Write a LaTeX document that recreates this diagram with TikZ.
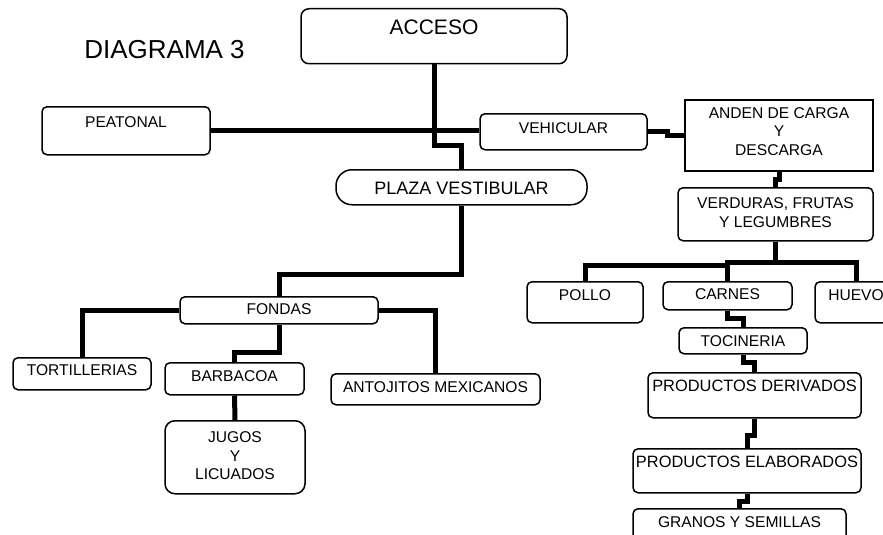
\documentclass[tikz,border=0pt]{standalone}
\usepackage{fontspec}
\setmainfont{Liberation Sans}
\usetikzlibrary{positioning,calc}
\tikzset{>=latex}
\tikzset{
  caja/.style={draw, line width=1.5pt, rounded corners=5pt, anchor=north, inner xsep=0pt, inner ysep=0pt, align=center, font=\fontsize{15.6}{18.5}\selectfont},
  grande/.style={font=\fontsize{16.4}{19}\selectfont},
  linea/.style={line width=5pt}
}

\begin{document}
\begin{tikzpicture}[x=1pt,y=-1pt]
    \useasboundingbox (0,0) rectangle (883,535);
    \clip (0,0) rectangle (883,535);
    \node (titulo) [inner sep=0pt, font=\fontsize{26}{30}\selectfont] at (164.5,49.5) {DIAGRAMA 3};
    % bloque de accesos
    \node (acceso) [caja, rounded corners=8pt, minimum width=266pt, text height=25.5pt, text depth=29.5pt, font=\fontsize{21}{24}\selectfont] at (434,8) {ACCESO};
    \node (peatonal) [caja, minimum width=168pt, text height=20.6pt, text depth=27.4pt] at (126,106) {PEATONAL};
    \node (vehicular) [caja, minimum width=167pt, text height=19.6pt, text depth=16.4pt] at (563.5,113) {VEHICULAR};
    \node (anden) [caja, sharp corners, minimum width=188pt, text height=55.6pt, text depth=15.4pt] at (779,99) {ANDEN DE CARGA\\Y\\DESCARGA};
    \node (plaza) [caja, rounded corners=16pt, minimum width=251pt, text height=24.95pt, text depth=10.05pt, font=\fontsize{18}{21}\selectfont] at (461.5,169) {PLAZA VESTIBULAR};
    % lado del mercado
    \node (verduras) [caja, minimum width=195pt, text height=39.6pt, text depth=13.4pt] at (775.5,187) {VERDURAS, FRUTAS\\Y LEGUMBRES};
    \node (pollo) [caja, minimum width=116pt, text height=18.6pt, text depth=22.4pt] at (585,281) {POLLO};
    \node (carnes) [caja, minimum width=129pt, text height=18.1pt, text depth=9.9pt] at (727.5,281) {CARNES};
    \node (huevo) [caja, minimum width=82pt, text height=18.6pt, text depth=22.4pt] at (856,281) {HUEVO};
    \node (tocineria) [caja, minimum width=128pt, text height=18.6pt, text depth=7.4pt] at (743,327) {TOCINERIA};
    \node (derivados) [caja, grande, minimum width=213pt, text height=18.9pt, text depth=26.1pt] at (754.5,372) {PRODUCTOS DERIVADOS};
    \node (elaborados) [caja, grande, minimum width=228pt, text height=18.9pt, text depth=25.1pt] at (747,448) {PRODUCTOS ELABORADOS};
    \node (granos) [caja, minimum width=213pt, text height=18.6pt, text depth=22pt] at (739.5,508) {GRANOS Y SEMILLAS};
    % lado de las fondas
    \node (fondas) [caja, minimum width=198pt, text height=18.1pt, text depth=8.9pt] at (279,296) {FONDAS};
    \node (tortillerias) [caja, minimum width=138pt, text height=18.1pt, text depth=13.9pt] at (82,357) {TORTILLERIAS};
    \node (barbacoa) [caja, minimum width=139pt, text height=18.6pt, text depth=13.4pt] at (234.5,362) {BARBACOA};
    \node (jugos) [caja, rounded corners=10pt, minimum width=140pt, text height=59.1pt, text depth=13.9pt] at (235,420) {JUGOS\\Y\\LICUADOS};
    \node (antojitos) [caja, minimum width=209pt, text height=18.6pt, text depth=12.4pt] at (435.5,373) {ANTOJITOS MEXICANOS};

    \draw [linea] (acceso.south) -- ++(0,81) -| (plaza.north);
    \draw [linea] (peatonal.east) -- (peatonal.east -| vehicular.west);
    \draw [linea] (vehicular.east) -- ++(20,0) |- (anden.west);
    \draw [linea] (anden.south) -- ++(0,8) -| (verduras.north);
    \draw [linea] (verduras.south) -- ++(0,20.5) coordinate (cruce) -| (huevo.north);
    \draw [linea] (carnes.north) |- (cruce);
    \draw [linea] (carnes.north) ++(0,-15.5) -| (pollo.north);
    \draw [linea] (carnes.south) -- ++(0,8) -| (tocineria.north);
    \draw [linea] (tocineria.south) -- ++(0,7.5) -| (derivados.north);
    \draw [linea] (derivados.south) -- ++(0,17) -| (elaborados.north);
    \draw [linea] (elaborados.south) -- ++(0,8) -| (granos.north);
    \draw [linea] (plaza.south) -- ++(0,68.5) -| (fondas.north);
    \draw [linea] (fondas.west) -| (tortillerias.north);
    \draw [linea] (fondas.east) -| (antojitos.north);
    \draw [linea] (fondas.south) -- ++(0,27.5) -| (barbacoa.north);
    \draw [linea] (barbacoa.south) -- (jugos.north);
  \end{tikzpicture}
\end{document}
